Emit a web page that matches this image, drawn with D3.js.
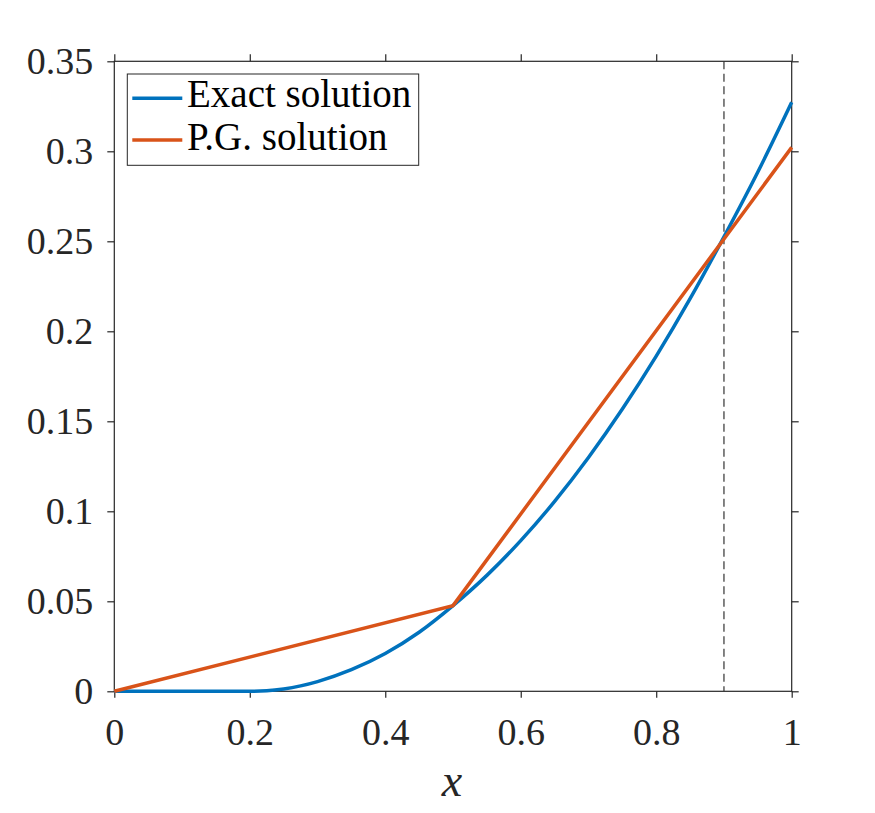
<!DOCTYPE html>
<html>
<head>
<meta charset="utf-8">
<script src="https://cdn.jsdelivr.net/npm/d3@7"></script>
<style>
  html, body { margin: 0; padding: 0; background: #fff; }
  svg { display: block; }
</style>
</head>
<body>
<svg id="chart"></svg>
<script>
// values
const exactX = [0, 0.1, 0.2, 0.225, 0.25, 0.275, 0.3, 0.35, 0.4, 0.45, 0.5, 0.55, 0.6, 0.65, 0.7, 0.75, 0.8, 0.85, 0.9, 0.95, 1];
const exactY = [0, 0, 0, 0.0003, 0.0013, 0.003, 0.0054, 0.012, 0.021, 0.0328, 0.0476, 0.0644, 0.0837, 0.1055, 0.1299, 0.1568, 0.1862, 0.2181, 0.2525, 0.2885, 0.3272];
const pgX = [0, 0.5, 1];
const pgY = [0, 0.0476, 0.3022];
const seriesNames = ["Exact solution", "P.G. solution"];
const xTicks = [0, 0.2, 0.4, 0.6, 0.8, 1];
const xTickLabels = ["0", "0.2", "0.4", "0.6", "0.8", "1"];
const yTicks = [0, 0.05, 0.1, 0.15, 0.2, 0.25, 0.3, 0.35];
const yTickLabels = ["0", "0.05", "0.1", "0.15", "0.2", "0.25", "0.3", "0.35"];
const markX = 0.9;
const xLabel = "x";

width = 875;
height = 813;
margin = ({top: 61.3, right: 83.3, bottom: 121.7, left: 114.3});
const axisColor = "#262626";
const font = "'Liberation Serif', 'Times New Roman', serif";
const colors = ["#0072BD", "#D95319"];

const svg = d3.select("#chart")
    .attr("width", width)
    .attr("height", height)
    .attr("viewBox", [0, 0, width, height]);

x = d3.scaleLinear()
    .domain([0, 1])
    .range([margin.left, width - margin.right]);

y = d3.scaleLinear()
    .domain([0, 0.35])
    .range([height - margin.bottom, margin.top]);

const exact = exactX.map((d, i) => ({x: d, y: exactY[i]}));
const pg = pgX.map((d, i) => ({x: d, y: pgY[i]}));

function styleAxis(g) {
    g.select(".domain").remove();
    g.selectAll(".tick line").attr("stroke", axisColor).attr("stroke-width", 1.2);
    g.selectAll(".tick text")
        .attr("fill", axisColor)
        .style("font-family", font)
        .style("font-size", "38px");
}

// bottom + top x axes
svg.append("g")
    .attr("transform", `translate(0,${y(0)})`)
    .call(d3.axisBottom(x).tickValues(xTicks).tickFormat((d, i) => xTickLabels[i]).tickSizeInner(6.5).tickSizeOuter(0))
    .call(styleAxis)
    .call(g => g.selectAll(".tick text").attr("y", 54).attr("dy", 0));

svg.append("g")
    .attr("transform", `translate(0,${y(0.35)})`)
    .call(d3.axisTop(x).tickValues(xTicks).tickFormat("").tickSizeInner(7).tickSizeOuter(0))
    .call(styleAxis);

// left + right y axes
svg.append("g")
    .attr("transform", `translate(${x(0)},0)`)
    .call(d3.axisLeft(y).tickValues(yTicks).tickFormat((d, i) => yTickLabels[i]).tickSizeInner(7).tickSizeOuter(0).tickPadding(14))
    .call(styleAxis)
    .call(g => g.selectAll(".tick text").attr("dy", 0).attr("y", 12));

svg.append("g")
    .attr("transform", `translate(${x(1)},0)`)
    .call(d3.axisRight(y).tickValues(yTicks).tickFormat("").tickSizeInner(7).tickSizeOuter(0))
    .call(styleAxis);

// box
svg.append("rect")
    .attr("x", x(0))
    .attr("y", y(0.35))
    .attr("width", x(1) - x(0))
    .attr("height", y(0) - y(0.35))
    .attr("fill", "none")
    .attr("stroke", axisColor)
    .attr("stroke-width", 1.2);

// dashed marker
svg.append("line")
    .attr("x1", x(markX)).attr("x2", x(markX))
    .attr("y1", y(0.35)).attr("y2", y(0))
    .attr("stroke", "#333")
    .attr("stroke-width", 1.2)
    .attr("stroke-dasharray", "8,4.5");

const line = d3.line()
    .x(d => x(d.x))
    .y(d => y(d.y));

svg.append("path")
    .datum(exact)
    .attr("fill", "none")
    .attr("stroke", colors[0])
    .attr("stroke-width", 3.5)
    .attr("d", line.curve(d3.curveMonotoneX));

svg.append("path")
    .datum(pg)
    .attr("fill", "none")
    .attr("stroke", colors[1])
    .attr("stroke-width", 3.5)
    .attr("d", line.curve(d3.curveLinear));

// x label
svg.append("text")
    .attr("x", (x(0) + x(1)) / 2 - 1)
    .attr("y", 796)
    .attr("text-anchor", "middle")
    .attr("fill", axisColor)
    .style("font-family", font)
    .style("font-style", "italic")
    .style("font-size", "46px")
    .text(xLabel);

// legend
const legend = svg.append("g");
legend.append("rect")
    .attr("x", 127.3).attr("y", 74)
    .attr("width", 291.4).attr("height", 91.3)
    .attr("fill", "#fff")
    .attr("stroke", axisColor)
    .attr("stroke-width", 1);

const rows = legend.selectAll("g.row")
    .data(seriesNames)
    .join("g")
    .attr("class", "row")
    .attr("transform", (d, i) => `translate(0,${[98.3, 140][i]})`);

rows.append("line")
    .attr("x1", 132.3).attr("x2", 182.3)
    .attr("stroke", (d, i) => colors[i])
    .attr("stroke-width", 3.5);

rows.append("text")
    .attr("x", 187)
    .attr("y", (d, i) => [8.5, 9.5][i])
    .attr("fill", "#000")
    .style("font-family", font)
    .style("font-size", "39px")
    .text(d => d);
</script>
</body>
</html>
